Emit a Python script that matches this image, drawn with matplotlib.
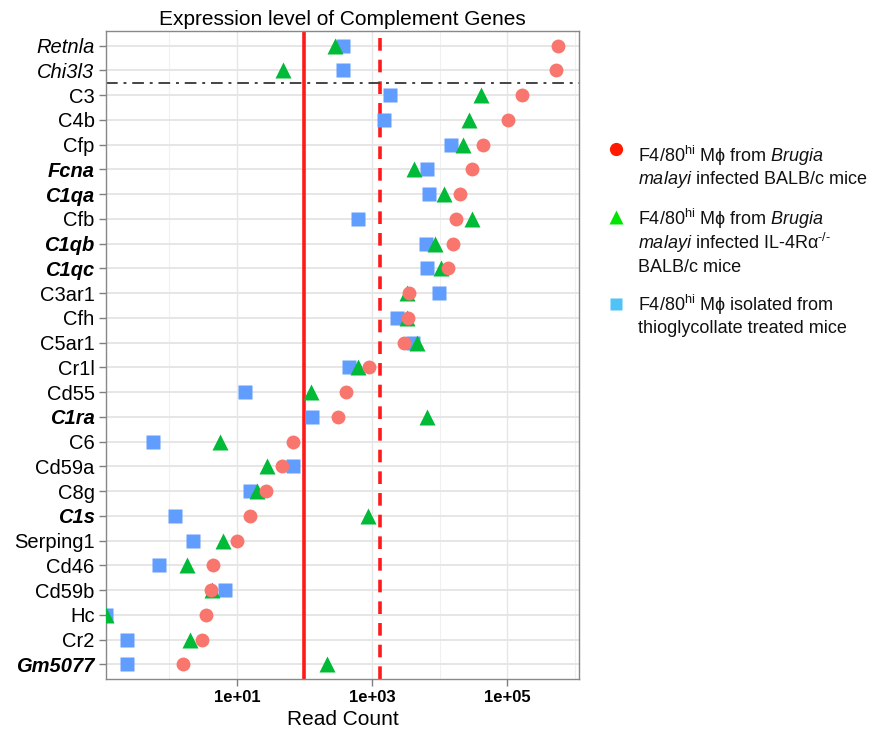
import numpy as np
import matplotlib
matplotlib.use("Agg")
import matplotlib.pyplot as plt
from matplotlib.lines import Line2D

plt.rcParams['font.family'] = ['Liberation Sans', 'DejaVu Sans']
plt.rcParams['mathtext.fontset'] = 'custom'
plt.rcParams['mathtext.rm'] = 'Liberation Sans'
plt.rcParams['mathtext.it'] = 'Liberation Sans:italic'
plt.rcParams['mathtext.bf'] = 'Liberation Sans:bold'

# ---------------- data ----------------
genes = ["Retnla", "Chi3l3", "C3", "C4b", "Cfp", "Fcna", "C1qa", "Cfb", "C1qb", "C1qc",
         "C3ar1", "Cfh", "C5ar1", "Cr1l", "Cd55", "C1ra", "C6", "Cd59a", "C8g", "C1s",
         "Serping1", "Cd46", "Cd59b", "Hc", "Cr2", "Gm5077"]
# label style: n = normal, i = italic, bi = bold italic
label_style = ["i", "i", "n", "n", "n", "bi", "bi", "n", "bi", "bi",
               "n", "n", "n", "n", "n", "bi", "n", "n", "n", "bi",
               "n", "n", "n", "n", "n", "bi"]

brugia_balbc = [5.57e5, 5.27e5, 1.66e5, 1.02e5, 44000, 30500, 20200, 17700, 15950, 13300,
                3490, 3400, 2990, 889, 407, 314, 67.8, 46.3, 27.2, 15.4,
                10.0, 4.46, 4.12, 3.52, 3.1, 1.57]
brugia_il4ra = [282, 47.7, 40100, 27200, 22100, 4120, 11700, 29800, 8650, 10500,
                3270, 3270, 4630, 617, 126, 6410, 5.7, 28.3, 19.6, 855,
                6.17, 1.84, 4.29, 0, 2.04, 212]
thioglycollate = [371, 371, 1815, 1495, 14550, 6510, 6860, 617, 6270, 6510,
                  9610, 2360, 3960, 463, 13.3, 129, 0.57, 68.5, 15.7, 1.2,
                  2.23, 0.71, 6.78, 0, 0.239, 0.239]

threshold_solid = 100
threshold_dashed = 1320
x_ticks = [1e1, 1e3, 1e5]
x_tick_labels = ["1e+01", "1e+03", "1e+05"]
x_minor = [1e0, 1e2, 1e4, 1e6]

legend_labels = [
    ["F4/80$^{\\mathrm{hi}}$ M$\\mathrm{\\phi}$ from $\\mathit{Brugia}$",
     "$\\mathit{malayi}$ infected BALB/c mice"],
    ["F4/80$^{\\mathrm{hi}}$ M$\\mathrm{\\phi}$ from $\\mathit{Brugia}$",
     "$\\mathit{malayi}$ infected IL-4R$\\mathrm{\\alpha}^{\\text{-/-}}$",
     "BALB/c mice"],
    ["F4/80$^{\\mathrm{hi}}$ M$\\mathrm{\\phi}$ isolated from",
     "thioglycollate treated mice"],
]

# ---------------- figure ----------------
W, H = 873, 731
fig = plt.figure(figsize=(W / 100, H / 100), dpi=100)
ax = fig.add_axes([105.7 / W, 1 - 679.3 / H, (579.3 - 105.7) / W, (679.3 - 30.7) / H])

ax.set_xscale('log')
allv = np.array(brugia_balbc + brugia_il4ra + thioglycollate, dtype=float)
pos = allv[allv > 0]
lo, hi = np.log10(pos.min()), np.log10(pos.max())
r = hi - lo
ax.set_xlim(10 ** (lo - 0.05 * r), 10 ** (hi + 0.05 * r))
n = len(genes)
ax.set_ylim(n - 1 + 0.6, -0.6)

ypos = np.arange(n)
xmin = ax.get_xlim()[0]

def prep(v):
    v = np.array(v, dtype=float)
    v[v <= 0] = xmin
    return v

# gridlines
ax.set_axisbelow(True)
ax.set_xticks(x_ticks)
ax.set_xticklabels(x_tick_labels)
ax.set_xticks(x_minor, minor=True)
ax.set_xticklabels([], minor=True)
ax.tick_params(axis='x', which='minor', length=0)
ax.set_yticks(ypos)
ax.set_yticklabels(genes)
ax.grid(True, which='major', axis='x', color='#E6E6E6', lw=1.0)
ax.grid(True, which='minor', axis='x', color='#F0F0F0', lw=0.8)
ax.grid(True, which='major', axis='y', color='#E6E6E6', lw=1.4)

ax.plot(prep(thioglycollate), ypos, 's', color='#619CFF', ms=9.5, mec='none', ls='none', zorder=3)
ax.plot(prep(brugia_il4ra), ypos, '^', color='#00BA38', ms=11, mec='none', ls='none', zorder=4)
ax.plot(prep(brugia_balbc), ypos, 'o', color='#F8766D', ms=10, mec='none', ls='none', zorder=5)

ax.axvline(threshold_solid, color='#FF1A1A', lw=2.6, zorder=2)
ax.axvline(threshold_dashed, color='#FF1A1A', lw=2.6, ls=(0, (3.5, 2.5)), zorder=2)
ax.axhline(1.5, color='#444444', lw=1.4, ls=(0, (6, 3, 1.5, 3)), zorder=2)

for sp in ax.spines.values():
    sp.set_color('#888888')
    sp.set_linewidth(1.0)
ax.tick_params(axis='both', which='major', color='#7F7F7F', length=5, width=1)
ax.tick_params(axis='y', labelsize=14.5, pad=3)
ax.tick_params(axis='x', labelsize=12, pad=3)
for lab in ax.get_xticklabels():
    lab.set_fontweight('bold')
for lab, st in zip(ax.get_yticklabels(), label_style):
    if st == 'i':
        lab.set_fontstyle('italic')
    elif st == 'bi':
        lab.set_fontstyle('italic')
        lab.set_fontweight('bold')

ax.set_title("Expression level of Complement Genes", fontsize=15, pad=4)
ax.set_xlabel("Read Count", fontsize=15, labelpad=3)

# ---------------- legend (manual) ----------------
def fx(px):
    return px / W

def fy(py):
    return 1 - py / H

marker_specs = [('o', '#FF1A00', 9.5, 149), ('^', '#00E600', 10, 217), ('s', '#4FC3F7', 9, 304)]
line_y = [[156, 180], [219, 243, 267], [305, 329]]
for (mk, col, ms, my), lines, ys in zip(marker_specs, legend_labels, line_y):
    fig.add_artist(Line2D([fx(616)], [fy(my)], marker=mk, color=col, ms=ms, mec='none',
                          ls='none', transform=fig.transFigure))
    for txt, yy in zip(lines, ys):
        fig.text(fx(638), fy(yy), txt, fontsize=13, va='center', ha='left', color='#111111')

fig.savefig('out.png', dpi=100)
